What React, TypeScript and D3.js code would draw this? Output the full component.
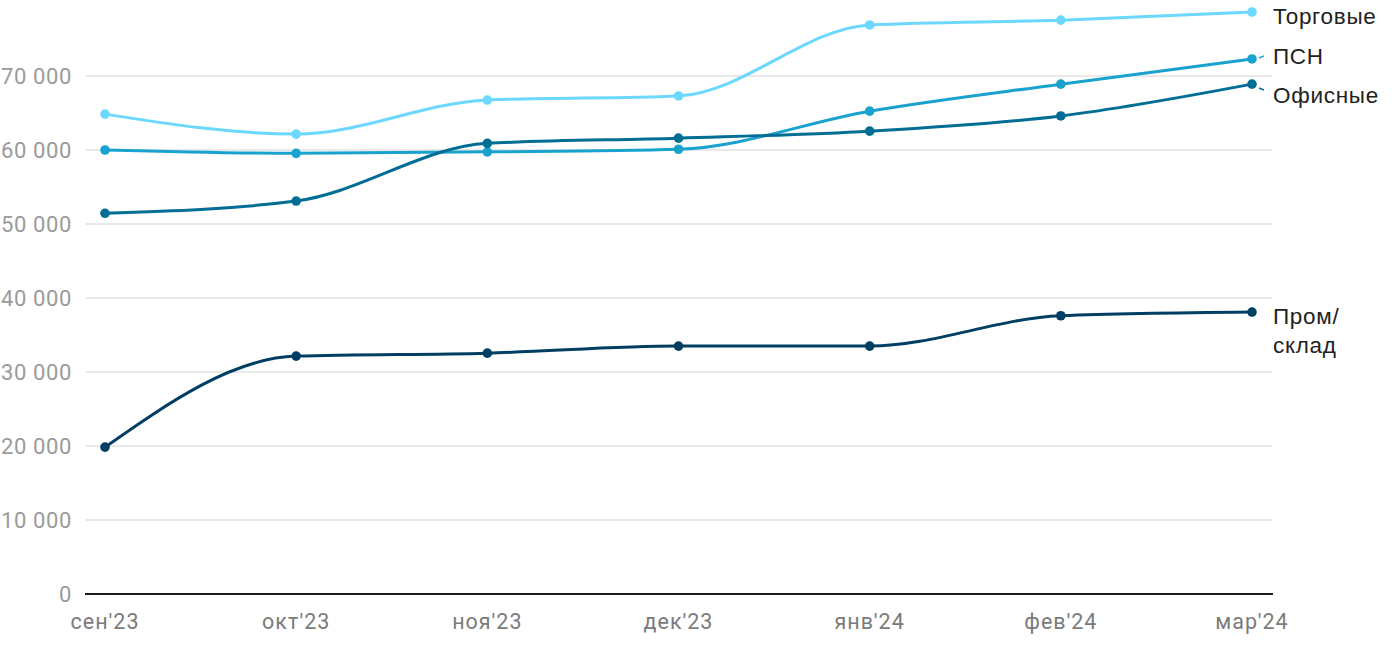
import React from "react";
import * as d3 from "d3";

const months = ["сен'23", "окт'23", "ноя'23", "дек'23", "янв'24", "фев'24", "мар'24"];
const torgovye = [64850, 62150, 66750, 67300, 76900, 77550, 78650];
const psn = [60000, 59550, 59750, 60100, 65250, 68900, 72300];
const ofisnye = [51450, 53100, 60900, 61600, 62550, 64600, 68900];
const promSklad = [19850, 32150, 32550, 33500, 33500, 37600, 38100];
const yTicks = [0, 10000, 20000, 30000, 40000, 50000, 60000, 70000];

const series = [
  { name: ["Торговые"], values: torgovye, color: "#6dd8fd", labelY: [16], dash: false },
  { name: ["ПСН"], values: psn, color: "#1aa2ce", labelY: [56], dash: true },
  { name: ["Офисные"], values: ofisnye, color: "#006d94", labelY: [95], dash: true },
  { name: ["Пром/", "склад"], values: promSklad, color: "#003f63", labelY: [316, 345], dash: false },
];

export default function App() {
  const W = 1400, H = 650;
  const x = d3.scalePoint<string>().domain(months).range([105, 1252]);
  const y = d3.scaleLinear().domain([0, 70000]).range([594, 76]);
  const line = d3
    .line<number>()
    .x((_, i) => x(months[i]) as number)
    .y((d) => y(d))
    .curve(d3.curveMonotoneX);
  const fmt = (v: number) => d3.format(",")(v).replace(/,/g, " ");
  const font = "Roboto, 'Liberation Sans', sans-serif";
  const legendFont = "'Liberation Sans', Arial, sans-serif";
  return (
    <div style={{ position: "absolute", left: 0, top: 0 }}>
      <svg width={W} height={H} style={{ display: "block", fontFamily: font }}>
        <rect width={W} height={H} fill="#fff" />
        {yTicks.map((t) => (
          <g key={t}>
            {t !== 0 && <line x1={86} x2={1272} y1={y(t)} y2={y(t)} stroke="#e2e2e2" strokeWidth={1.5} />}
            <text x={72} y={y(t)} dy="0.35em" textAnchor="end" fontSize={22} letterSpacing={0.6} fill="#9b9b9b">
              {fmt(t)}
            </text>
          </g>
        ))}
        <line x1={85} x2={1273} y1={y(0)} y2={y(0)} stroke="#1a1a1a" strokeWidth={2} />
        {months.map((m) => (
          <text key={m} x={x(m) as number} y={621} dy="0.35em" textAnchor="middle" fontSize={21.5} letterSpacing={1} fill="#7b7b7b">
            {m}
          </text>
        ))}
        {series.map((s) => (
          <g key={s.name.join("")}>
            <path d={line(s.values) as string} fill="none" stroke={s.color} strokeWidth={3} />
            {s.values.map((v, i) => (
              <circle key={i} cx={x(months[i]) as number} cy={y(v)} r={4.8} fill={s.color} />
            ))}
            {s.dash && (
              <line
                x1={1259}
                x2={1264}
                y1={y(s.values[6]) + (s.labelY[0] - y(s.values[6])) * 0.35}
                y2={y(s.values[6]) + (s.labelY[0] - y(s.values[6])) * 0.35 + (s.labelY[0] > y(s.values[6]) ? 2 : -2)}
                stroke={s.color}
                strokeWidth={1.5}
              />
            )}
            {s.name.map((n, j) => (
              <text key={n} x={1273} y={s.labelY[j]} dy="0.35em" fontFamily={legendFont} fontSize={22.5} letterSpacing={0.7} fill="#222">
                {n}
              </text>
            ))}
          </g>
        ))}
      </svg>
    </div>
  );
}
